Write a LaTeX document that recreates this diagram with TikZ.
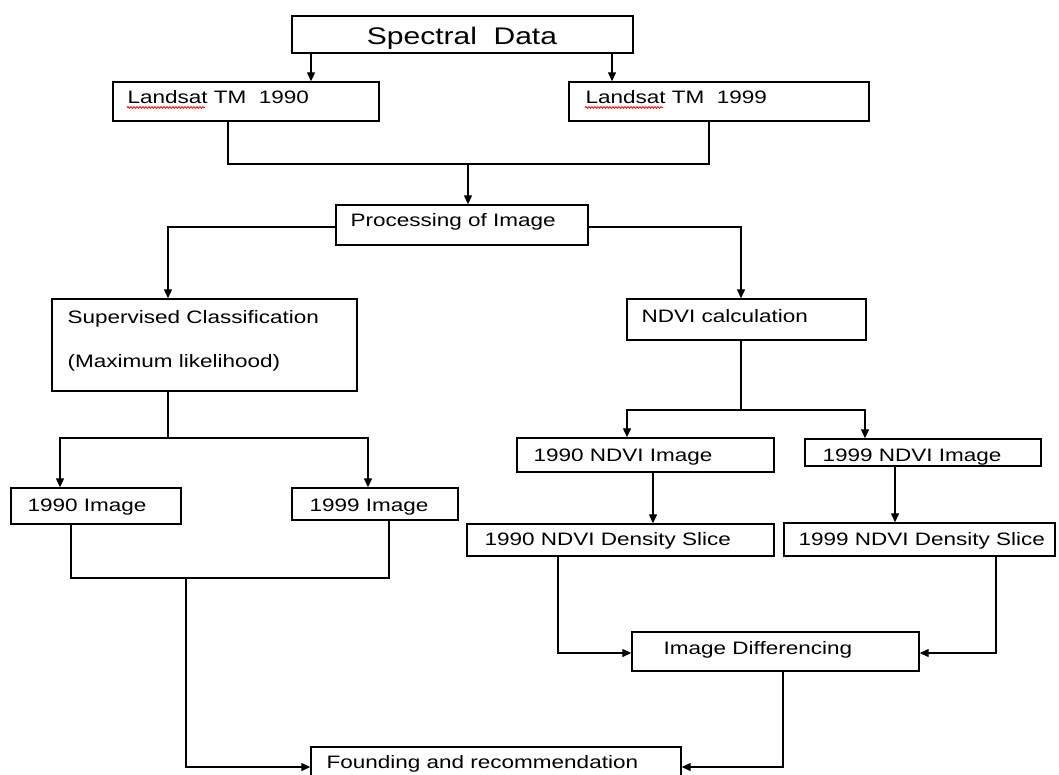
\documentclass[tikz,border=0pt]{standalone}
\usepackage{fontspec}
\setmainfont{Liberation Sans}[FakeStretch=1.25]
\usetikzlibrary{arrows.meta,fit,decorations.pathmorphing}
\newcommand\mybox[5]{\node[box, fit={(#2,#3) (#4,#5)}] (#1) {};}
\begin{document}
\begin{tikzpicture}[x=1pt,y=-1pt, line width=1.3pt,
  box/.style={draw, inner sep=0pt, line width=1.4pt},
  txt/.style={inner sep=0pt, anchor=base west, font=\fontsize{18}{20}\selectfont},
  arr/.style={-{Triangle[length=9pt,width=8pt]}},
  squig/.style={red, line width=0.8pt, decorate, decoration={snake, amplitude=0.9pt, segment length=3pt}}]
\useasboundingbox (0,0) rectangle (1059,774);
\clip (0,0) rectangle (1059,774);
% boxes
\mybox{sd}{292}{16}{633}{53}
\mybox{l90}{113}{82}{379}{121}
\mybox{l99}{569}{82}{869}{121}
\mybox{proc}{336}{205}{588}{245}
\mybox{sup}{52}{299}{357}{391}
\mybox{ndvi}{627}{299}{866}{340}
\mybox{i90}{11}{488}{181}{524}
\mybox{i99}{292}{488}{458}{520}
\mybox{n90}{517}{438}{774}{472}
\mybox{n99}{805}{439}{1041}{466}
\mybox{d90}{467}{524}{774}{556}
\mybox{d99}{784}{523}{1055}{556}
\mybox{diff}{632}{632}{919}{671}
\mybox{fr}{311}{747}{681}{790}
% texts
\node[txt, anchor=base, font=\fontsize{24}{27}\selectfont] (sd-t) at (462,44) {Spectral\ \ Data};
\node[txt] (l90-t) at (127,103) {Landsat TM\ \ 1990};
\node[txt] (l99-t) at (585,103) {Landsat TM\ \ 1999};
\draw[squig] (127,107.5) -- (205,107.5);
\draw[squig] (585,107.5) -- (663,107.5);
\node[txt] (proc-t) at (350,226) {Processing of Image};
\node[txt] (sup-t1) at (67,323) {Supervised Classification};
\node[txt] (sup-t2) at (67,367) {(Maximum likelihood)};
\node[txt] (ndvi-t) at (641,322) {NDVI calculation};
\node[txt] (i90-t) at (27,511) {1990 Image};
\node[txt] (i99-t) at (309,511) {1999 Image};
\node[txt] (n90-t) at (533,461) {1990 NDVI Image};
\node[txt] (n99-t) at (822,461) {1999 NDVI Image};
\node[txt] (d90-t) at (484,545) {1990 NDVI Density Slice};
\node[txt] (d99-t) at (798,545) {1999 NDVI Density Slice};
\node[txt] (diff-t) at (663,654) {Image Differencing};
\node[txt] (fr-t) at (326,768) {Founding and recommendation};
% column / row helpers
\foreach \c in {311,612,228,709,468,168,741,60,368,71,389,186,627,865,653,895,558,996,783}
  \coordinate (c\c) at (\c,0);
\foreach \r in {164,227,410,438,578,653,767}
  \coordinate (r\r) at (0,\r);
% connectors
\draw[arr] (sd.south -| c311) -- (l90.north -| c311);
\draw[arr] (sd.south -| c612) -- (l99.north -| c612);
\draw (l90.south -| c228) |- (c709 |- r164) -- (l99.south -| c709);
\draw[arr] (c468 |- r164) -- (proc.north -| c468);
\draw[arr] (proc.west |- r227) -| (sup.north -| c168);
\draw[arr] (proc.east |- r227) -| (ndvi.north -| c741);
\draw (sup.south -| c168) -- (c168 |- r438);
\draw[arr] (c168 |- r438) -| (i90.north -| c60);
\draw[arr] (c168 |- r438) -| (i99.north -| c368);
\draw (i90.south -| c71) |- (c389 |- r578) -- (i99.south -| c389);
\draw[arr] (c186 |- r578) |- (fr.west |- r767);
\draw (ndvi.south -| c741) -- (c741 |- r410);
\draw[arr] (c741 |- r410) -| (n90.north -| c627);
\draw[arr] (c741 |- r410) -| (n99.north -| c865);
\draw[arr] (n90.south -| c653) -- (d90.north -| c653);
\draw[arr] (n99.south -| c895) -- (d99.north -| c895);
\draw[arr] (d90.south -| c558) |- (diff.west |- r653);
\draw[arr] (d99.south -| c996) |- (diff.east |- r653);
\draw[arr] (diff.south -| c783) |- (fr.east |- r767);
\end{tikzpicture}
\end{document}
